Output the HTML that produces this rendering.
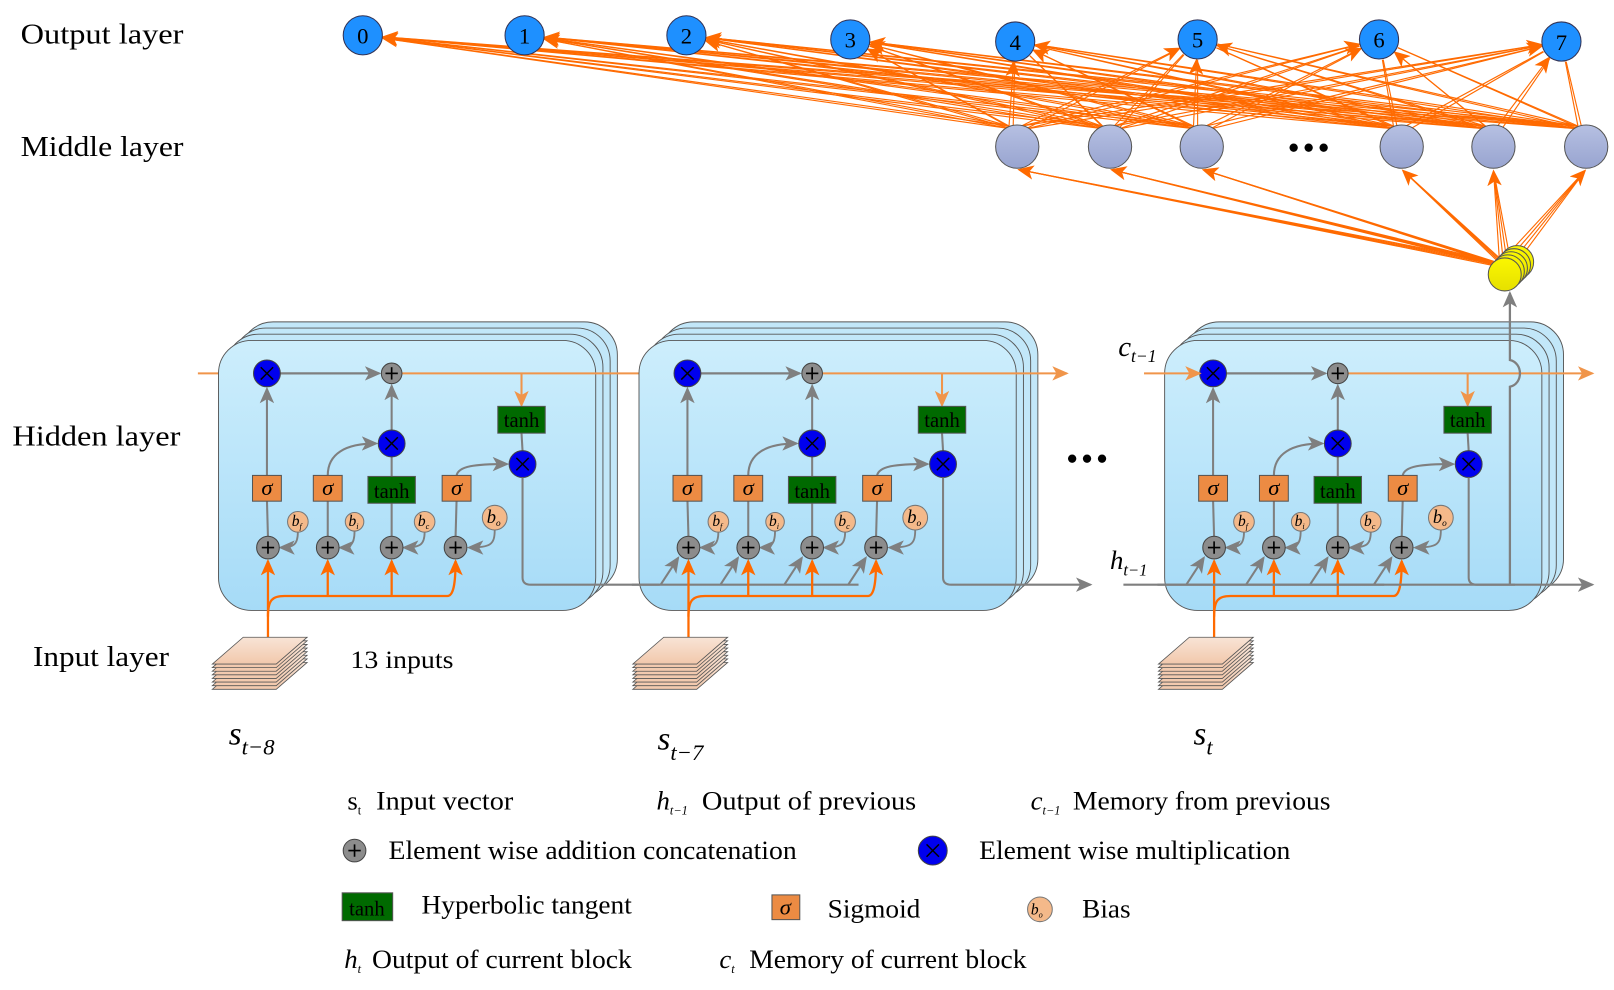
<!DOCTYPE html>
<html><head><meta charset="utf-8"><style>
html,body{margin:0;padding:0;background:#fff;}
svg{display:block;font-family:"Liberation Serif",serif;}
</style></head><body>
<svg id="s" width="1614" height="990" viewBox="0 0 1566 960" xmlns="http://www.w3.org/2000/svg">
<defs>
<linearGradient id="bx" x1="0" y1="0" x2="0" y2="1"><stop offset="0" stop-color="#cdeefc"/><stop offset="1" stop-color="#a6dbf7"/></linearGradient>
<linearGradient id="mid" x1="0" y1="0" x2="0" y2="1"><stop offset="0" stop-color="#b6c0e2"/><stop offset="1" stop-color="#98a4d0"/></linearGradient>
<linearGradient id="yel" x1="0" y1="0" x2="0" y2="1"><stop offset="0" stop-color="#fbf700"/><stop offset="1" stop-color="#e6e000"/></linearGradient>
<linearGradient id="pg" x1="0" y1="0" x2="0" y2="1"><stop offset="0" stop-color="#f8e4d6"/><stop offset="1" stop-color="#f2c8ac"/></linearGradient>
<marker id="ao" markerUnits="userSpaceOnUse" markerWidth="16" markerHeight="14" refX="14" refY="7" orient="auto"><path d="M0,0 L16,7 L0,14 L4,7z" fill="#ff6a00"/></marker>
<marker id="al" markerUnits="userSpaceOnUse" markerWidth="16" markerHeight="14" refX="14" refY="7" orient="auto"><path d="M0,0 L16,7 L0,14 L4,7z" fill="#f0954a"/></marker>
<marker id="ag" markerUnits="userSpaceOnUse" markerWidth="16" markerHeight="14" refX="14" refY="7" orient="auto"><path d="M0,0 L16,7 L0,14 L4,7z" fill="#7f7f7f"/></marker>
</defs>
<g id="shapes"></g>
<g id="txt" font-size="26" fill="#000">
<text x="20" y="42" font-size="28" textLength="158" lengthAdjust="spacingAndGlyphs">Output layer</text>
<text x="20" y="151" font-size="28" textLength="158" lengthAdjust="spacingAndGlyphs">Middle layer</text>
<text x="12" y="432" font-size="28" textLength="163" lengthAdjust="spacingAndGlyphs">Hidden layer</text>
<text x="32" y="646" font-size="28" textLength="132" lengthAdjust="spacingAndGlyphs">Input layer</text>
<text x="340" y="648" font-size="25" textLength="100" lengthAdjust="spacingAndGlyphs">13 inputs</text>
<text x="1250" y="153" font-size="30" font-weight="bold" letter-spacing="4">•••</text>
<text x="1035" y="455" font-size="30" font-weight="bold" letter-spacing="4">•••</text>
<g font-size="22" text-anchor="middle">
<text x="352" y="42">0</text><text x="509" y="42">1</text><text x="666" y="42">2</text><text x="825" y="46">3</text><text x="985" y="48">4</text><text x="1162" y="46">5</text><text x="1338" y="46">6</text><text x="1515" y="48">7</text>
</g>
<text x="1085" y="345" font-size="28" font-style="italic">c<tspan font-size="17" dy="6">t−1</tspan></text>
<text x="1077" y="552" font-size="26" font-style="italic">h<tspan font-size="16" dy="6">t−1</tspan></text>
<text x="222" y="722" font-size="32" font-style="italic">s<tspan font-size="22" dy="10">t−8</tspan></text>
<text x="638" y="727" font-size="32" font-style="italic">s<tspan font-size="22" dy="10">t−7</tspan></text>
<text x="1158" y="722" font-size="32" font-style="italic">s<tspan font-size="22" dy="10">t</tspan></text>
<!-- legend -->
<text x="337" y="785">s<tspan font-size="12" dy="5">t</tspan></text>
<text x="365" y="785" textLength="133" lengthAdjust="spacingAndGlyphs">Input vector</text>
<text x="637" y="785" font-style="italic">h<tspan font-size="12" dy="5">t−1</tspan></text>
<text x="681" y="785" textLength="208" lengthAdjust="spacingAndGlyphs">Output of previous</text>
<text x="1000" y="785" font-style="italic">c<tspan font-size="12" dy="5">t−1</tspan></text>
<text x="1041" y="785" textLength="250" lengthAdjust="spacingAndGlyphs">Memory from previous</text>
<text x="377" y="833" textLength="396" lengthAdjust="spacingAndGlyphs">Element wise addition concatenation</text>
<text x="950" y="833" textLength="302" lengthAdjust="spacingAndGlyphs">Element wise multiplication</text>
<text x="409" y="886" textLength="204" lengthAdjust="spacingAndGlyphs">Hyperbolic tangent</text>
<text x="803" y="890" textLength="90" lengthAdjust="spacingAndGlyphs">Sigmoid</text>
<text x="1050" y="890" textLength="47" lengthAdjust="spacingAndGlyphs">Bias</text>
<text x="334" y="939" font-style="italic">h<tspan font-size="12" dy="5">t</tspan></text>
<text x="361" y="939" textLength="252" lengthAdjust="spacingAndGlyphs">Output of current block</text>
<text x="698" y="939" font-style="italic">c<tspan font-size="12" dy="5">t</tspan></text>
<text x="727" y="939" textLength="269" lengthAdjust="spacingAndGlyphs">Memory of current block</text>
<text x="356" y="888" font-size="20" text-anchor="middle">tanh</text>
<text x="762" y="887" font-size="22" font-style="italic" text-anchor="middle">σ</text>
<text x="1006" y="887" font-size="15" font-style="italic" text-anchor="middle">b<tspan font-size="8" dy="3">o</tspan></text>
<!-- block texts -->
<g>
<g font-size="22" font-style="italic" text-anchor="middle"><text x="259" y="480">σ</text><text x="318" y="480">σ</text><text x="443" y="480">σ</text></g>
<g font-size="20" text-anchor="middle"><text x="380" y="483">tanh</text><text x="506" y="414">tanh</text></g>
<g font-size="15" font-style="italic" text-anchor="middle"><text x="288" y="510">b<tspan font-size="8" dy="3">f</tspan></text><text x="343" y="510">b<tspan font-size="8" dy="3">i</tspan></text><text x="411" y="510">b<tspan font-size="8" dy="3">c</tspan></text><text x="479" y="507" font-size="18">b<tspan font-size="9" dy="3">o</tspan></text></g>
</g>
<g transform="translate(408,0)">
<g font-size="22" font-style="italic" text-anchor="middle"><text x="259" y="480">σ</text><text x="318" y="480">σ</text><text x="443" y="480">σ</text></g>
<g font-size="20" text-anchor="middle"><text x="380" y="483">tanh</text><text x="506" y="414">tanh</text></g>
<g font-size="15" font-style="italic" text-anchor="middle"><text x="288" y="510">b<tspan font-size="8" dy="3">f</tspan></text><text x="343" y="510">b<tspan font-size="8" dy="3">i</tspan></text><text x="411" y="510">b<tspan font-size="8" dy="3">c</tspan></text><text x="479" y="507" font-size="18">b<tspan font-size="9" dy="3">o</tspan></text></g>
</g>
<g transform="translate(918,0)">
<g font-size="22" font-style="italic" text-anchor="middle"><text x="259" y="480">σ</text><text x="318" y="480">σ</text><text x="443" y="480">σ</text></g>
<g font-size="20" text-anchor="middle"><text x="380" y="483">tanh</text><text x="506" y="414">tanh</text></g>
<g font-size="15" font-style="italic" text-anchor="middle"><text x="288" y="510">b<tspan font-size="8" dy="3">f</tspan></text><text x="343" y="510">b<tspan font-size="8" dy="3">i</tspan></text><text x="411" y="510">b<tspan font-size="8" dy="3">c</tspan></text><text x="479" y="507" font-size="18">b<tspan font-size="9" dy="3">o</tspan></text></g>
</g>
</g>
</svg>
<script>
(function(){
var o=[];
function L(x1,y1,x2,y2,c,w,m){o.push('<line x1="'+x1+'" y1="'+y1+'" x2="'+x2+'" y2="'+y2+'" stroke="'+c+'" stroke-width="'+(w||2)+'"'+(m?' marker-end="url(#'+m+')"':'')+'/>');}
function P(d,c,w,m,f){o.push('<path d="'+d+'" stroke="'+c+'" stroke-width="'+(w||2)+'" fill="'+(f||'none')+'"'+(m?' marker-end="url(#'+m+')"':'')+'/>');}
function C(x,y,r,f,s){o.push('<circle cx="'+x+'" cy="'+y+'" r="'+r+'" fill="'+f+'" stroke="'+(s||'#444')+'" stroke-width="1"/>');}
function R(x,y,w,h,f){o.push('<rect x="'+x+'" y="'+y+'" width="'+w+'" height="'+h+'" fill="'+f+'" stroke="#555" stroke-width="1"/>');}
function plus(x,y,r){C(x,y,r,'#8c8c8c');L(x-6,y,x+6,y,'#000',1.6);L(x,y-6,x,y+6,'#000',1.6);}
function mult(x,y,r){C(x,y,r,'#0000ee');L(x-6,y-6,x+6,y+6,'#000',1.4);L(x-6,y+6,x+6,y-6,'#000',1.4);}
var G='#7f7f7f',OR='#ff6a00',LO='#f0954a';
var outs=[[352,34],[509,34],[666,34],[825,38],[985,40],[1162,38],[1338,38],[1515,40]];
var mids=[987,1077,1166,1360,1449,1539];
mids.forEach(function(mx,i){outs.forEach(function(op,j){
 for(var k=0;k<2;k++){var sx=mx+(op[0]<mx?-6:6)+k*4-2, sy=122+k*3;
  var dx=sx-op[0],dy=sy-op[1],d=Math.sqrt(dx*dx+dy*dy);
  var ex=op[0]+dx/d*20, ey=op[1]+dy/d*20;
  L(sx,sy,ex,ey,OR,1.1,(k==0&&i%2==0)?'ao':null);}
});});
mids.forEach(function(mx){
 for(var k=0;k<4;k++){var sx=1455+k*4,sy=255+k*2;var tx=mx,ty=164;
  var dx=sx-tx,dy=sy-ty,d=Math.sqrt(dx*dx+dy*dy);L(sx,sy,tx+dx/d*2,ty+dy/d*2,OR,1.1,k==0?'ao':null);}
});
mids.forEach(function(mx){o.push('<circle cx="'+mx+'" cy="142" r="21" fill="url(#mid)" stroke="#555" stroke-width="1"/>');});
outs.forEach(function(p){C(p[0],p[1],19,'#1e90ff','#335');});
for(var k=4;k>=0;k--){o.push('<circle cx="'+(1460+k*3)+'" cy="'+(266-k*3)+'" r="16" fill="url(#yel)" stroke="#555" stroke-width="1"/>');}
function block(dx,idx){
 for(var k=3;k>=0;k--){o.push('<rect x="'+(212+7*k+dx)+'" y="'+(330-6*k)+'" width="366" height="262" rx="32" fill="'+(k==0?'url(#bx)':'#c2e7f9')+'" stroke="#555" stroke-width="0.9"/>');}
 var X=function(v){return v+dx;};
 if(idx>0){L(X(205),567,X(425),567,G,2);
  [260,318,380,442].forEach(function(px){L(X(px-27),567,X(px-10),541,G,2,'ag');});}
 L(X(272),362,X(368),362,G,2.2,'ag');
 L(X(259),461,X(259),377,G,2,'ag');L(X(260),521,X(259),485,G,2);
 L(X(318),521,X(318),485,G,2);P('M'+X(318)+' 461 C'+X(318)+' 440 '+X(335)+' 430 '+X(365)+' 430',G,2,'ag');
 L(X(380),521,X(380),488,G,2);L(X(380),462,X(380),443,G,2);L(X(380),417,X(380),374,G,2,'ag');
 L(X(442),521,X(443),485,G,2);P('M'+X(443)+' 461 C'+X(445)+' 452 '+X(460)+' 450 '+X(492)+' 450',G,2,'ag');
 L(X(506),420,X(507),437,G,2);
 [[289,516,272],[344,515,330],[412,516,392],[480,514,455]].forEach(function(b){
  P('M'+X(b[0])+' '+b[1]+' C'+X(b[0])+' 528 '+X(b[0]-4)+' 531 '+X(b[2])+' 531',G,1.8,'ag');});
 L(X(390),362,idx==0?655:(idx==1?1035:1545),362,LO,2,'al');
 L(X(506),362,X(506),393,LO,2,'al');
 L(X(260),620,X(260),544,OR,2.2,'ao');
 P('M'+X(260)+' 598 C'+X(260)+' 582 '+X(264)+' 578 '+X(276)+' 578 L'+X(434)+' 578 C'+X(440)+' 578 '+X(442)+' 566 '+X(442)+' 544',OR,2.2,'ao');
 L(X(318),578,X(318),544,OR,2.2,'ao');L(X(380),578,X(380),544,OR,2.2,'ao');
 mult(X(259),362,13);plus(X(380),362,10);mult(X(380),430,13);mult(X(507),450,13);
 R(X(245),461,28,25,'#ec8b43');R(X(304),461,28,25,'#ec8b43');R(X(429),461,28,25,'#ec8b43');
 R(X(357),462,46,26,'#006a00');R(X(483),394,46,26,'#006a00');
 [260,318,380,442].forEach(function(px){plus(X(px),531,11);});
 C(X(289),506,10,'#f4b98a','#777');C(X(344),506,9,'#f4b98a','#777');C(X(412),506,10,'#f4b98a','#777');C(X(480),502,12,'#f4b98a','#777');
 for(var s=7;s>=0;s--){var y=618+s*3.5;
  o.push('<polygon points="'+X(236)+','+y+' '+X(298)+','+y+' '+X(268)+','+(y+26)+' '+X(206)+','+(y+26)+'" fill="url(#pg)" stroke="#555" stroke-width="0.8"/>');}
}
L(192,362,244,362,LO,2,'al');
block(0,0);block(408,1);block(918,2);
// output lines drawn on top
P('M507 463 L507 560 Q507 567 515 567 L640 567',G,2);
P('M915 463 L915 560 Q915 567 923 567 L1058 567',G,2,'ag');
P('M1425 463 L1425 560 Q1425 567 1433 567 L1470 567',G,2);
L(1110,362,1164,362,LO,2,'al');
L(1090,567,1545,567,G,2,'ag');
P('M1465 567 L1465 375 C1478 372 1478 352 1465 349 L1465 284',G,2.2,'ag');
plus(344,825,11);mult(905,825,14);
R(332,866,49,27,'#006a00');R(749,868,27,24,'#ec8b43');
C(1009,882,12,'#f4b98a','#777');
document.getElementById('shapes').innerHTML=o.join('');
})();
</script>
</body></html>
